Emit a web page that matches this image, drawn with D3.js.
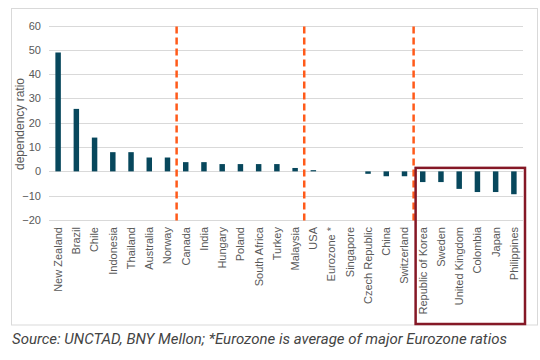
<!DOCTYPE html>
<html><head><meta charset="utf-8">
<script src="https://cdn.jsdelivr.net/npm/d3@7"></script>
<style>
body{margin:0;background:#fff;}
svg{display:block;}
</style></head>
<body>
<svg id="chart" width="540" height="360"></svg>
<script>
const categories = ["New Zealand","Brazil","Chile","Indonesia","Thailand","Australia","Norway","Canada","India","Hungary","Poland","South Africa","Turkey","Malaysia","USA","Eurozone *","Singapore","Czech Republic","China","Switzerland","Republic of Korea","Sweden","United Kingdom","Colombia","Japan","Philippines"];
const values = [48.9,25.7,13.9,7.9,7.9,5.7,5.7,3.8,3.8,3.0,3.0,3.0,3.0,1.4,0.5,0,0,-1.0,-2.0,-2.0,-4.4,-4.4,-7.2,-8.5,-8.5,-9.4];
const yTicks = [60,50,40,30,20,10,0,-10,-20];
const dividerAfter = ["Norway","Malaysia","Switzerland"];
const highlight = ["Republic of Korea","Philippines"];
const yTitle = "dependency ratio";
const caption = "Source: UNCTAD, BNY Mellon; *Eurozone is average of major Eurozone ratios";

(function(){
const svg = d3.select("#chart");
const font = "'Liberation Sans', Arial, sans-serif";
const pL = 49, pR = 523, pT = 25.5, pB = 220;

// outer frame
svg.append("rect").attr("x",11.5).attr("y",8.5).attr("width",526).attr("height",316.5)
  .attr("fill","#fff").attr("stroke","#d9d9d9").attr("stroke-width",1);

const x = d3.scaleBand().domain(categories).range([pL,pR]).paddingInner(0).paddingOuter(0);
const y = d3.scaleLinear().domain([-20,60]).range([pB,pT]);

// gridlines
svg.append("g").selectAll("line").data(yTicks).join("line")
  .attr("x1",pL).attr("x2",pR)
  .attr("y1",d=>Math.round(y(d))+0.5).attr("y2",d=>Math.round(y(d))+0.5)
  .attr("stroke","#d9d9d9").attr("stroke-width",1);

// y axis labels
const yAxis = d3.axisLeft(y).tickValues(yTicks).tickSize(0).tickPadding(8);
const gy = svg.append("g").attr("transform",`translate(${pL},0)`).call(yAxis);
gy.select(".domain").remove();
gy.selectAll("text").attr("font-family",font).attr("font-size",11).attr("fill","#595959");

// bars
const bw = x.bandwidth()*0.3;
svg.append("g").selectAll("rect").data(categories).join("rect")
  .attr("x",(d)=>x(d)+x.bandwidth()/2-bw/2)
  .attr("width",bw)
  .attr("y",(d,i)=>y(Math.max(0,values[i])))
  .attr("height",(d,i)=>Math.abs(y(values[i])-y(0)))
  .attr("fill","#07475c");

// x labels
const xAxis = d3.axisBottom(x).tickSize(0).tickPadding(0);
const gx = svg.append("g").attr("transform",`translate(0,${pB+7})`).call(xAxis);
gx.select(".domain").remove();
gx.selectAll("text")
  .attr("font-family",font).attr("font-size",11).attr("fill","#595959")
  .attr("transform","rotate(-90)")
  .attr("text-anchor","end").attr("x",0).attr("y",0).attr("dy","0.35em");

// dashed dividers
svg.append("g").selectAll("line").data(dividerAfter).join("line")
  .attr("x1",d=>x(d)+x.bandwidth()).attr("x2",d=>x(d)+x.bandwidth())
  .attr("y1",pT+1).attr("y2",pB+2)
  .attr("stroke","#ff5a1a").attr("stroke-width",2.5).attr("stroke-dasharray","7,4");

// highlight box
const hx0 = x(highlight[0]) + 2, hx1 = x(highlight[1]) + x.bandwidth() + 2;
svg.append("rect").attr("x",hx0).attr("y",y(0)-3.5).attr("width",hx1-hx0).attr("height",324-(y(0)-3.5))
  .attr("fill","none").attr("stroke","#851826").attr("stroke-width",2.5);

// y title
svg.append("text").attr("transform",`translate(24,124) rotate(-90)`)
  .attr("text-anchor","middle").attr("font-family",font).attr("font-size",12).attr("fill","#595959")
  .text(yTitle);

// caption
svg.append("text").attr("x",12).attr("y",344).attr("font-family","Roboto, sans-serif")
  .attr("font-style","italic").attr("font-size",15).attr("fill","#444").text(caption);
})();
</script>
</body></html>
